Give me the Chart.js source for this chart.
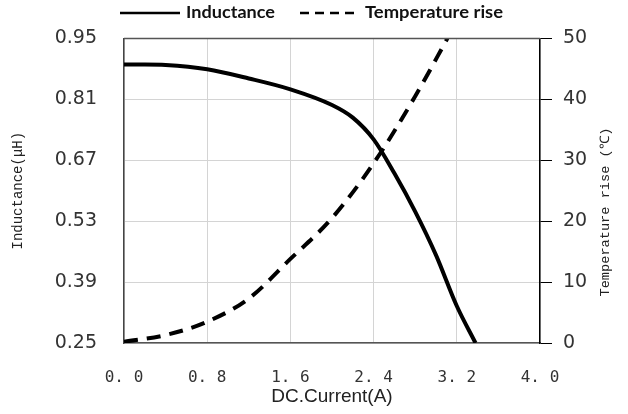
<!DOCTYPE html>
<html lang="en">

<head>
    <meta charset="UTF-8">
    <title>Inductance / Temperature rise</title>
    <style>
        html, body { margin: 0; padding: 0; background: #fff; }
        #box { width: 628px; height: 414px; }
    </style>
</head>

<body>
    <div id="box">
        <canvas id="myChart" width="628" height="414"></canvas>
    </div>

    <script src="https://cdn.jsdelivr.net/npm/chart.js"></script>
    <script>
        // 讀圖估計的數據
        var currentL = [0, 0.2, 0.4, 0.8, 1.2, 1.6, 2.0, 2.2, 2.4, 2.6, 2.8, 3.0, 3.2, 3.38];
        var inductance = [0.890, 0.890, 0.889, 0.879, 0.858, 0.833, 0.797, 0.768, 0.718, 0.640, 0.552, 0.452, 0.335, 0.25];
        var currentT = [0, 0.4, 0.8, 1.2, 1.6, 2.0, 2.4, 2.8, 3.11];
        var tempRise = [0.2, 1.3, 3.5, 7.3, 13.8, 20.5, 29.5, 40.5, 50];

        var xTicks = [0, 0.8, 1.6, 2.4, 3.2, 4.0];
        var lTicks = [0.25, 0.39, 0.53, 0.67, 0.81, 0.95];
        var tTicks = [0, 10, 20, 30, 40, 50];

        function toPoints(xs, ys) {
            return xs.map(function (x, i) { return { x: x, y: ys[i] }; });
        }
        function setTicks(list) {
            return function (scale) {
                scale.ticks = list.map(function (v) { return { value: v }; });
            };
        }

        // 自己畫圖例、上框線、右側標題
        var extras = {
            id: 'extras',
            afterDraw: function (chart) {
                var ctx = chart.ctx;
                var a = chart.chartArea;
                ctx.save();
                ctx.strokeStyle = '#555';
                ctx.lineWidth = 1.5;
                ctx.beginPath();
                ctx.moveTo(a.left, a.top);
                ctx.lineTo(a.right, a.top);
                ctx.stroke();

                // legend
                ctx.strokeStyle = '#000';
                ctx.lineWidth = 2.5;
                ctx.beginPath();
                ctx.moveTo(120, 13);
                ctx.lineTo(180, 13);
                ctx.stroke();
                ctx.setLineDash([9, 6]);
                ctx.beginPath();
                ctx.moveTo(300, 13);
                ctx.lineTo(354, 13);
                ctx.stroke();
                ctx.setLineDash([]);
                ctx.fillStyle = '#111';
                ctx.font = 'bold 17px Lato';
                ctx.textBaseline = 'middle';
                ctx.textAlign = 'left';
                var t1 = chart.data.datasets[0].label;
                var t2 = chart.data.datasets[1].label;
                ctx.save();
                ctx.translate(186, 13);
                ctx.scale(89 / ctx.measureText(t1).width, 1);
                ctx.fillText(t1, 0, 0);
                ctx.restore();
                ctx.save();
                ctx.translate(365, 13);
                ctx.scale(138 / ctx.measureText(t2).width, 1);
                ctx.fillText(t2, 0, 0);
                ctx.restore();

                // right axis title
                ctx.translate(606, 212);
                ctx.rotate(-Math.PI / 2);
                ctx.font = '13px "Liberation Mono"';
                ctx.textAlign = 'center';
                var txt = 'Temperature rise (℃)';
                var w = ctx.measureText(txt).width;
                ctx.scale(169 / w, 1);
                ctx.fillStyle = '#222';
                ctx.fillText(txt, 0, 0);
                ctx.restore();
            }
        };

        var ctx = document.getElementById('myChart');
        var myChart = new Chart(ctx, {
            type: 'line',
            data: {
                datasets: [{
                    label: 'Inductance',
                    data: toPoints(currentL, inductance),
                    yAxisID: 'yL',
                    borderColor: '#000',
                    borderWidth: 4,
                    pointRadius: 0,
                    cubicInterpolationMode: 'monotone',
                    fill: false
                }, {
                    label: 'Temperature rise',
                    data: toPoints(currentT, tempRise),
                    yAxisID: 'yR',
                    borderColor: '#000',
                    borderWidth: 4,
                    borderDash: [14, 9],
                    pointRadius: 0,
                    cubicInterpolationMode: 'monotone',
                    fill: false
                }]
            },
            options: {
                responsive: false,
                animation: false,
                layout: { padding: { top: 35, left: 0, right: 0, bottom: 0 } },
                plugins: {
                    legend: { display: false },
                    tooltip: { enabled: false }
                },
                scales: {
                    x: {
                        type: 'linear',
                        min: 0,
                        max: 4,
                        afterBuildTicks: setTicks(xTicks),
                        afterFit: function (s) { s.height = 71; },
                        grid: { color: '#d4d4d4', drawTicks: false },
                        border: { color: '#555', width: 1.5 },
                        ticks: {
                            padding: 25,
                            color: '#333',
                            font: { family: 'DejaVu Sans Mono', size: 16 },
                            callback: function (v) { return v.toFixed(1).replace('.', '. '); }
                        },
                        title: {
                            display: true,
                            text: 'DC.Current(A)',
                            color: '#222',
                            font: { family: 'Liberation Sans', size: 19 },
                            padding: { top: 0, bottom: 6 }
                        }
                    },
                    yL: {
                        type: 'linear',
                        position: 'left',
                        min: 0.25,
                        max: 0.95,
                        afterBuildTicks: setTicks(lTicks),
                        afterFit: function (s) { s.width = 124; },
                        grid: { color: '#d4d4d4', drawTicks: false },
                        border: { color: '#444', width: 1.5 },
                        ticks: {
                            padding: 27,
                            color: '#333',
                            font: { family: 'DejaVu Sans', size: 19 },
                            callback: function (v) { return v.toFixed(2); }
                        },
                        title: {
                            display: true,
                            text: 'Inductance(μH)',
                            color: '#222',
                            font: { family: 'Liberation Mono', size: 14 },
                            padding: { top: 10, bottom: 0 }
                        }
                    },
                    yR: {
                        type: 'linear',
                        position: 'right',
                        min: 0,
                        max: 50,
                        afterBuildTicks: setTicks(tTicks),
                        afterFit: function (s) { s.width = 88; },
                        grid: { drawOnChartArea: false, color: '#000', tickLength: 12 },
                        border: { color: '#000', width: 1.5 },
                        ticks: {
                            padding: 11,
                            color: '#333',
                            font: { family: 'DejaVu Sans', size: 19 }
                        }
                    }
                }
            },
            plugins: [extras]
        });
    </script>
</body>

</html>
